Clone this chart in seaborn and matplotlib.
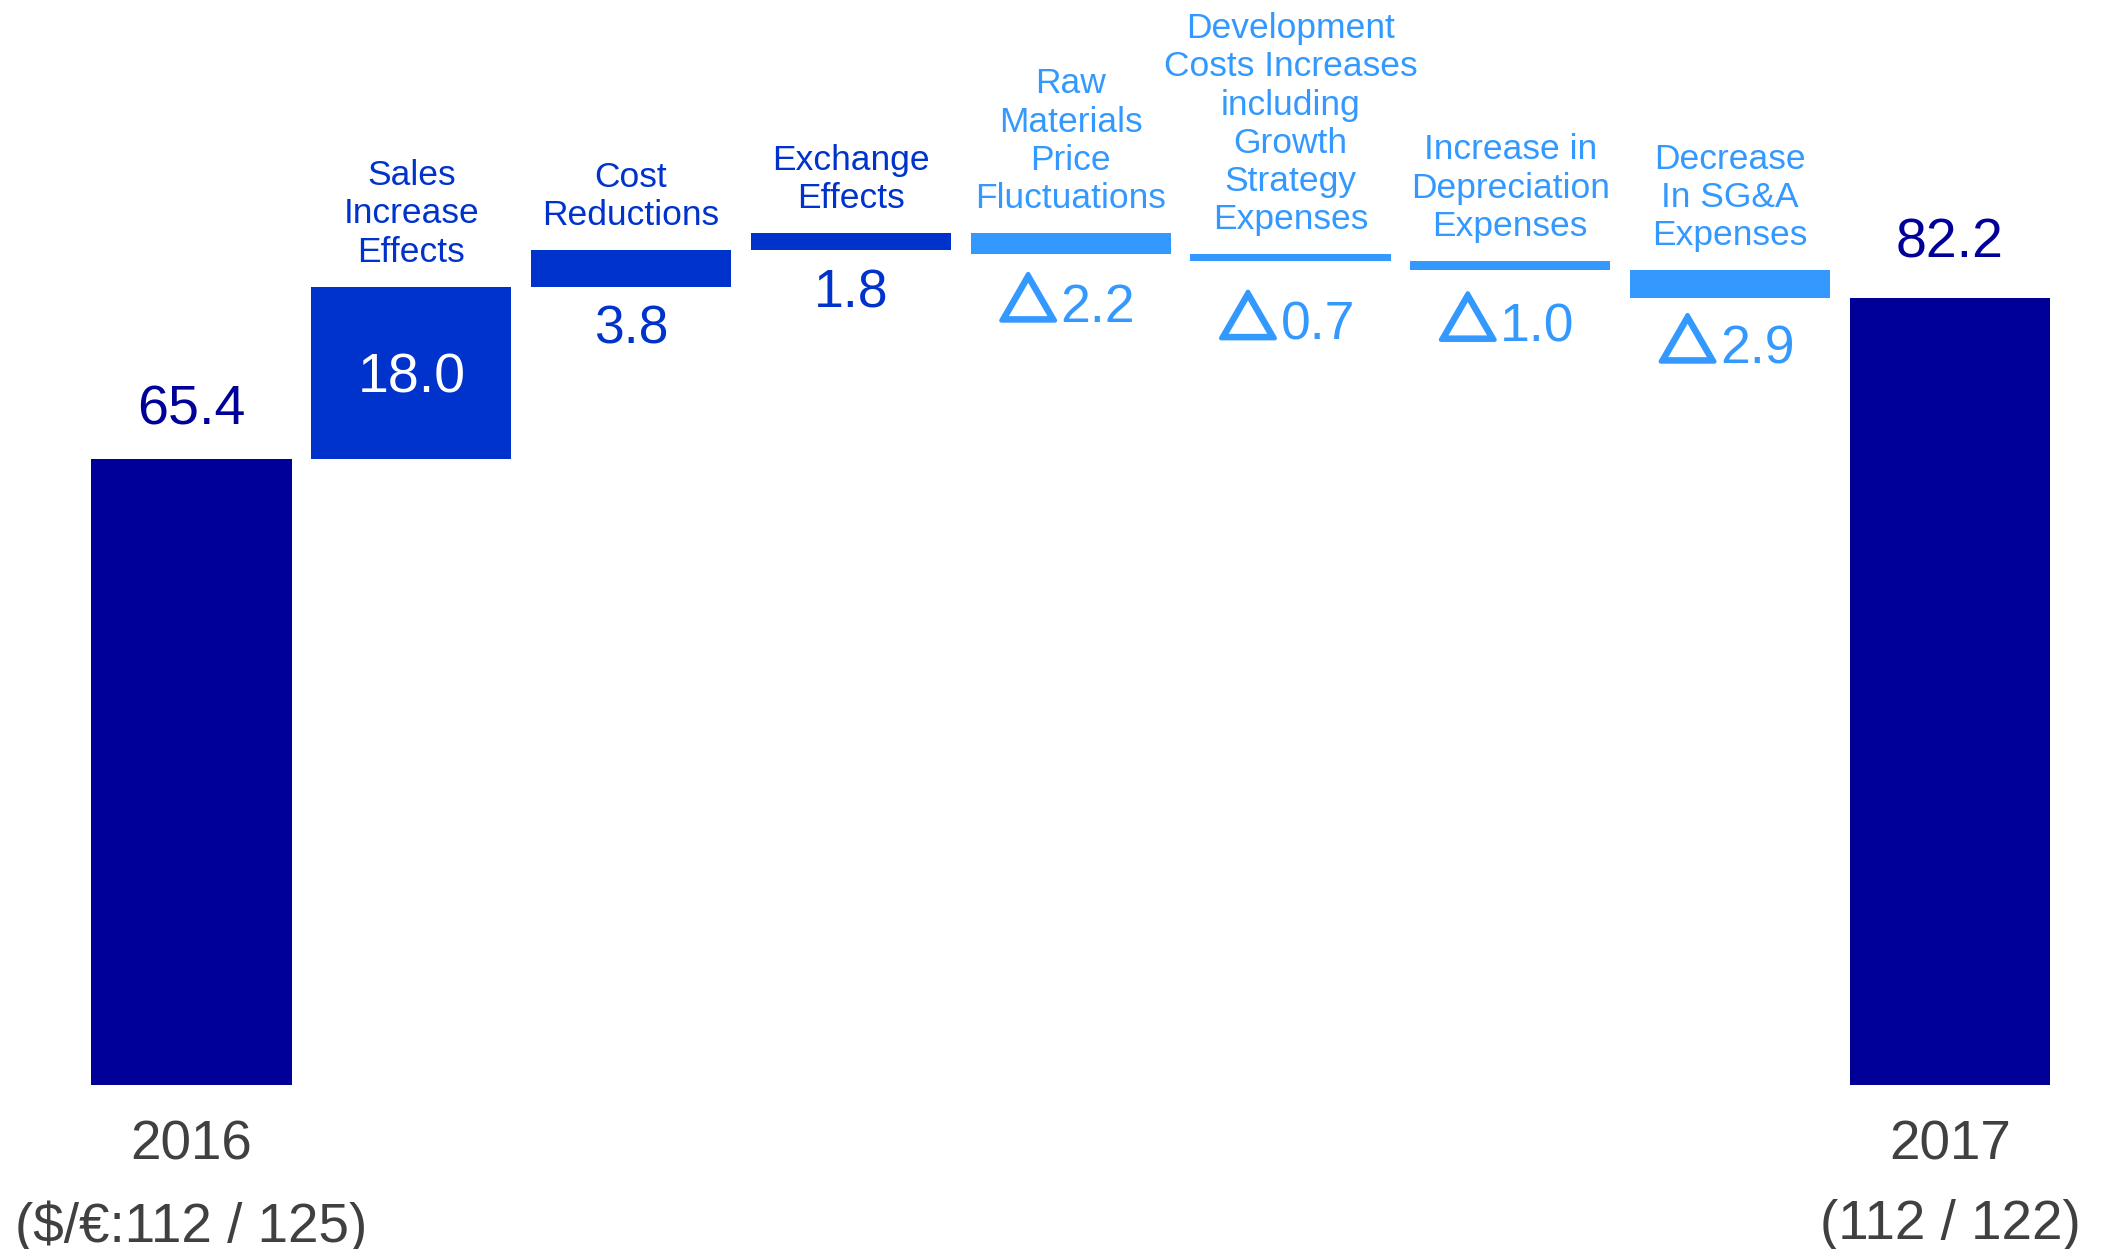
import matplotlib
matplotlib.use("Agg")
import matplotlib.pyplot as plt
import matplotlib.patheffects as pe
import seaborn as sns
import pandas as pd

# ---------------- data ----------------
steps = ["2016", "Sales", "Cost", "Exchange", "Raw", "Development",
         "Depreciation", "SG&A", "2017"]
step_labels = ["",
               "Sales\nIncrease\nEffects",
               "Cost\nReductions",
               "Exchange\nEffects",
               "Raw\nMaterials\nPrice\nFluctuations",
               "Development\nCosts Increases\nincluding\nGrowth\nStrategy\nExpenses",
               "Increase in\nDepreciation\nExpenses",
               "Decrease\nIn SG&A\nExpenses",
               ""]
changes = [65.4, 18.0, 3.8, 1.8, -2.2, -0.7, -1.0, -2.9, 82.2]
kinds = ["total", "up", "up", "up", "down", "down", "down", "down", "total"]
value_texts = ["65.4", "18.0", "3.8", "1.8", "2.2", "0.7", "1.0", "2.9", "82.2"]
negative_mark = "△"
year_ticks = ["2016\n($/€:112 / 125)", "2017\n(112 / 122)"]

# ---------------- styles ----------------
colors = {"total": "#000099", "up": "#0033CC", "down": "#3399FF"}
value_colors = {"total": "#000099", "up": "#0033CC", "down": "#3399FF"}
# vertical offsets (pixels) of each value label baseline
value_offsets = [34, -20, -57, -57, -68, -79, -71, -65, 41]

# ---------------- waterfall geometry ----------------
bottoms, tops = [], []
running = 0.0
for c, k in zip(changes, kinds):
    if k == "total":
        bottoms.append(0.0)
        tops.append(c)
        running = c
    else:
        start, end = running, running + c
        bottoms.append(min(start, end))
        tops.append(max(start, end))
        running = end

df = pd.DataFrame({"step": steps, "top": tops, "bottom": bottoms, "kind": kinds})

sns.set_style("white")
plt.rcParams["font.family"] = ["Liberation Sans", "Noto Sans CJK JP", "DejaVu Sans"]

W, H = 2102, 1249
fig = plt.figure(figsize=(W / 100, H / 100), dpi=100)
base_px = 1085          # pixel row (from top) of value 0
px_per_unit = 9.572
ax = fig.add_axes([0, (H - base_px) / H, 1, base_px / H])

sns.barplot(data=df, x="step", y="top", hue="kind", order=steps,
            hue_order=["total", "up", "down"], palette=colors,
            dodge=False, width=0.91, saturation=1, legend=False,
            linewidth=0, ax=ax)
sns.barplot(data=df, x="step", y="bottom", order=steps, color="white",
            width=0.95, saturation=1, linewidth=0, ax=ax)

spacing_px = 219.8
xmin = -191.5 / spacing_px
ax.set_xlim(xmin, xmin + W / spacing_px)
ax.set_ylim(0, base_px / px_per_unit)

for s in ax.spines.values():
    s.set_visible(False)
ax.set_yticks([])
ax.set_ylabel("")
ax.set_xlabel("")
ax.set_xticks([0, len(steps) - 1])
ax.set_xticklabels(year_ticks)
ax.tick_params(axis="x", length=0, pad=25, labelsize=39.5, labelcolor="#404040")
plt.setp(ax.get_xticklabels(), linespacing=1.69)

# category labels above bars
for i, (lab, k) in enumerate(zip(step_labels, kinds)):
    if not lab:
        continue
    ax.annotate(lab, xy=(i, tops[i]), xytext=(0, 18), textcoords="offset pixels",
                ha="center", va="bottom", fontsize=25.5, color=value_colors[k],
                linespacing=1.2)

# value labels
for i, (txt, k) in enumerate(zip(value_texts, kinds)):
    if k == "total":
        ax.annotate(txt, xy=(i, tops[i]), xytext=(0, value_offsets[i]),
                    textcoords="offset pixels", ha="center", va="baseline",
                    fontsize=40, color=value_colors[k])
    elif i == 1:
        ax.annotate(txt, xy=(i, (tops[i] + bottoms[i]) / 2),
                    xytext=(0, value_offsets[i]),
                    textcoords="offset pixels", ha="center", va="baseline",
                    fontsize=40, color="white")
    elif k == "up":
        ax.annotate(txt, xy=(i, bottoms[i]), xytext=(0, value_offsets[i]),
                    textcoords="offset pixels", ha="center", va="baseline",
                    fontsize=38.5, color=value_colors[k])
    else:
        ax.annotate(txt, xy=(i, bottoms[i]), xytext=(-10, value_offsets[i]),
                    textcoords="offset pixels", ha="left", va="baseline",
                    fontsize=38.5, color=value_colors[k])
        ax.annotate(negative_mark, xy=(i, bottoms[i]),
                    xytext=(-14, value_offsets[i] + 1),
                    textcoords="offset pixels", ha="right", va="baseline",
                    fontsize=41, color=value_colors[k],
                    family=["Noto Sans CJK JP", "DejaVu Sans"],
                    path_effects=[pe.withStroke(linewidth=3.2,
                                                foreground=value_colors[k])])

fig.savefig("out.png", dpi=100, facecolor="white")
